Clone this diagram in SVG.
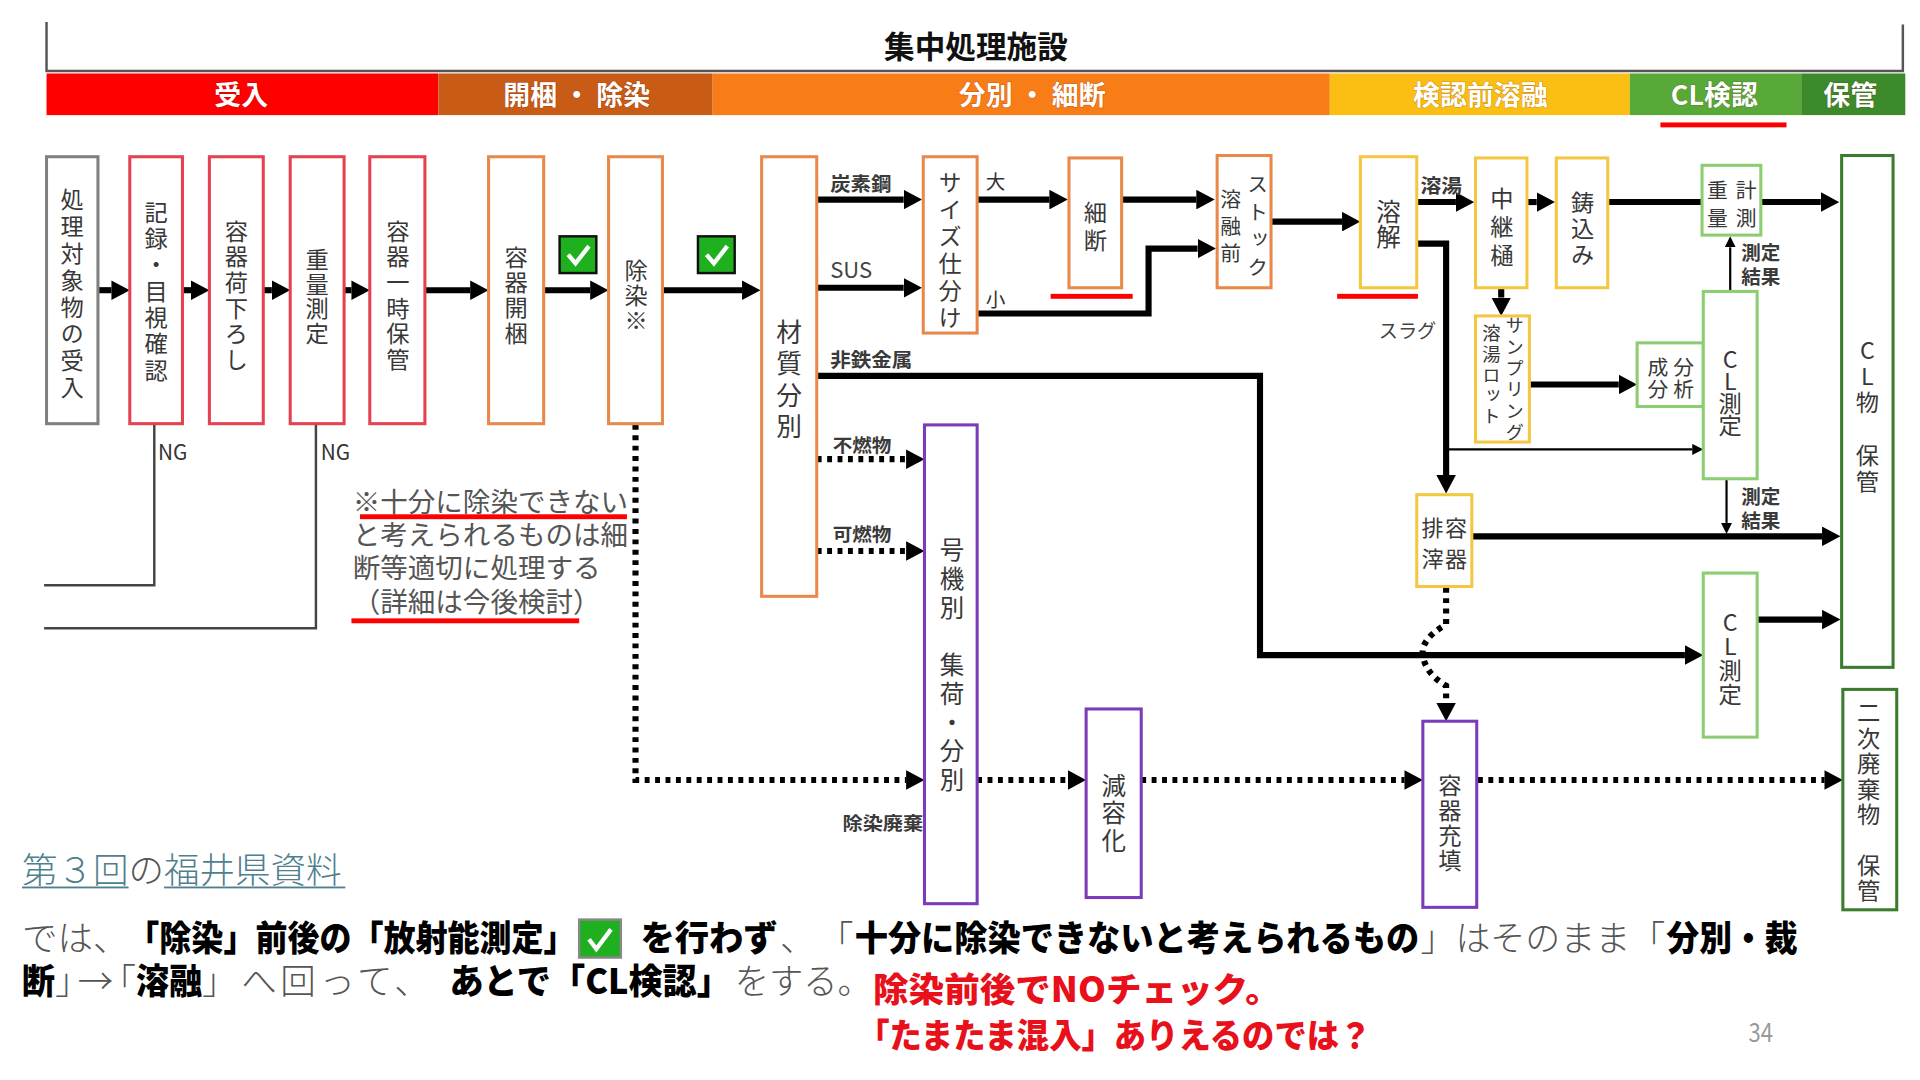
<svg xmlns="http://www.w3.org/2000/svg" width="1920" height="1080" viewBox="0 0 1920 1080">
<defs>
<style>
text{font-family:'Noto Sans CJK JP','Noto Sans',sans-serif;}
.v{writing-mode:vertical-rl;text-orientation:upright;text-anchor:middle;fill:#383838;font-size:19px;}
.box{fill:#fff;stroke-width:2.5;}
.gray{stroke:#808080}
.red{stroke:#e5414f}
.org{stroke:#e8894b}
.yel{stroke:#f4c743}
.lgr{stroke:#8ccd72}
.dgr{stroke:#3b7b2d}
.pur{stroke:#7a3cb8}
.thick{fill:none;stroke:#000;stroke-width:5;marker-end:url(#ah)}
.plain{fill:none;stroke:#000;stroke-width:5}
.thin{fill:none;stroke:#000;stroke-width:1.8;marker-end:url(#ahs)}
.dot{fill:none;stroke:#000;stroke-width:5;stroke-dasharray:4 4.5;marker-end:url(#ah)}
.ng{fill:none;stroke:#444;stroke-width:2}
.el{fill:#3a3a3a;font-size:16px;font-weight:700}
.band{fill:#fff;font-size:22px;font-weight:700;text-anchor:middle;stroke:rgba(90,0,0,0.25);stroke-width:1;paint-order:stroke}
.ul{fill:#f00}
.note{fill:#555;font-size:22.5px}
.lt{fill:#555;font-size:29px;font-weight:300}
.bd{fill:#000;font-size:29px;font-weight:900}
.rd{fill:#e8101a;font-size:28px;font-weight:900}
</style>
<marker id="ah" markerUnits="userSpaceOnUse" markerWidth="15" markerHeight="16" viewBox="0 0 15 16" refX="0" refY="8" orient="auto"><path d="M0,0 L15,8 L0,16 z" fill="#000"/></marker>
<marker id="ahs" markerUnits="userSpaceOnUse" markerWidth="9" markerHeight="9" viewBox="0 0 9 9" refX="0" refY="4.5" orient="auto"><path d="M0,0 L9,4.5 L0,9 z" fill="#000"/></marker>
<g id="chk"><rect x="0" y="0" width="30" height="30" fill="#1fb01f" stroke="#111" stroke-width="2"/><path d="M7,15 L13,22 L24,8" fill="none" stroke="#fff" stroke-width="3.5"/></g>
</defs>
<rect width="1920" height="1080" fill="#fff"/>
<g transform="scale(1.2244898)">

<!-- header -->
<g id="header">
<path d="M38,18 V58 H1554 V20" fill="none" stroke="#555" stroke-width="2"/>
<text x="797" y="47" font-size="25" font-weight="700" fill="#111" text-anchor="middle">集中処理施設</text>
<rect x="38" y="60" width="320" height="34" fill="#fe0000"/>
<rect x="358" y="60" width="224" height="34" fill="#c85b15"/>
<rect x="582" y="60" width="504" height="34" fill="#f87d17"/>
<rect x="1086" y="60" width="245" height="34" fill="#fbbe13"/>
<rect x="1331" y="60" width="140" height="34" fill="#58a938"/>
<rect x="1471" y="60" width="85" height="34" fill="#3d8a2b"/>
<text class="band" x="197" y="86">受入</text>
<text class="band" x="471" y="86">開梱 ・ 除染</text>
<text class="band" x="843" y="86">分別 ・ 細断</text>
<text class="band" x="1209" y="86">検認前溶融</text>
<text class="band" x="1400" y="86">CL検認</text>
<text class="band" x="1511" y="86">保管</text>
<rect class="ul" x="1356" y="100" width="103" height="4"/>
</g>

<!-- connectors -->
<g id="connectors">
<path class="thick" d="M80,237 H91"/>
<path class="thick" d="M149,237 H156"/>
<path class="thick" d="M215,237 H222"/>
<path class="thick" d="M281,237 H287"/>
<path class="thick" d="M347,237 H384"/>
<path class="thick" d="M444,237 H482"/>
<path class="thick" d="M541,237 H606"/>
<path class="thick" d="M667,163 H738"/>
<path class="thick" d="M667,235 H738"/>
<path class="thick" d="M798,163 H857"/>
<path class="thick" d="M798,256 H938 V203 H978"/>
<path class="thick" d="M916,163 H977"/>
<path class="thick" d="M1038,181 H1096"/>
<path class="thick" d="M1157,165 H1189"/>
<path class="thick" d="M1247,165 H1255"/>
<path class="plain" d="M1314,165 H1390"/>
<path class="thick" d="M1438,165 H1487"/>
<path class="thick" d="M1226,235 V243"/>
<path class="thick" d="M1249,314 H1322"/>
<path class="thick" d="M1157,199 H1181 V388"/>
<path class="thick" d="M1202,438 H1488"/>
<path class="thick" d="M1435,506 H1488"/>
<path class="thick" d="M667,307 H1029 V535 H1376"/>
<path class="thin" d="M1413,238 V202"/>
<path class="thin" d="M1410,391 V427"/>
<path class="thin" d="M1181,367 H1382"/>
<path class="dot" d="M519,347 V637 H740"/>
<path class="dot" d="M667,375 H740"/>
<path class="dot" d="M667,450 H740"/>
<path class="dot" d="M798,637 H872"/>
<path class="dot" d="M932,637 H1147"/>
<path class="dot" d="M1207,637 H1490"/>
<path class="dot" d="M1181,480 V510 Q1160,522 1162,535 Q1164,550 1181,560 V574"/>
<path class="ng" d="M126,346 V478 H36"/>
<path class="ng" d="M258,346 V513 H36"/>
</g>

<!-- connector labels -->
<g id="labels">
<text class="el" x="678" y="156" textLength="50" lengthAdjust="spacingAndGlyphs">炭素鋼</text>
<text x="678" y="227" font-size="18" fill="#444">SUS</text>
<text class="el" x="678" y="300" textLength="67" lengthAdjust="spacingAndGlyphs">非鉄金属</text>
<text class="el" x="680" y="369" style="font-size:15px" textLength="48" lengthAdjust="spacingAndGlyphs">不燃物</text>
<text class="el" x="680" y="442" style="font-size:15px" textLength="48" lengthAdjust="spacingAndGlyphs">可燃物</text>
<text x="805" y="154" font-size="16" fill="#333">大</text>
<text x="805" y="251" font-size="16" fill="#333">小</text>
<text class="el" x="1160" y="158" textLength="34" lengthAdjust="spacingAndGlyphs">溶湯</text>
<text x="1126" y="276" font-size="16" fill="#444" textLength="47" lengthAdjust="spacingAndGlyphs">スラグ</text>
<text class="el" x="688" y="678" style="font-size:15px" textLength="66" lengthAdjust="spacingAndGlyphs">除染廃棄</text>
<text class="el" x="1422" y="212">測定<tspan x="1422" y="232">結果</tspan></text>
<text class="el" x="1422" y="412">測定<tspan x="1422" y="431">結果</tspan></text>
<text x="129" y="376" font-size="17" fill="#333">NG</text>
<text x="262" y="376" font-size="17" fill="#333">NG</text>
</g>

<!-- nodes -->
<g id="n-receive"><rect class="box gray" x="38" y="128" width="42" height="218"/><text class="v" x="59" y="241" style="letter-spacing:3px">処理対象物の受入</text></g>
<g id="n-record"><rect class="box red" x="106" y="128" width="43" height="218"/><text class="v" x="127.5" y="238.75" style="letter-spacing:2.5px">記録・目視確認</text></g>
<g id="n-unload"><rect class="box red" x="171" y="128" width="44" height="218"/><text class="v" x="193" y="242" style="letter-spacing:2px">容器荷下ろし</text></g>
<g id="n-weigh"><rect class="box red" x="237" y="128" width="44" height="218"/><text class="v" x="259" y="242.5" style="letter-spacing:1px">重量測定</text></g>
<g id="n-tempstore"><rect class="box red" x="302" y="128" width="45" height="218"/><text class="v" x="325" y="242" style="letter-spacing:2px">容器一時保管</text></g>
<g id="n-open"><rect class="box org" x="399" y="128" width="45" height="218"/><text class="v" x="421.5" y="241.75" style="letter-spacing:1.5px">容器開梱</text></g>
<g id="n-decon"><rect class="box org" x="497" y="128" width="44" height="218"/><text class="v" x="519.5" y="242" style="letter-spacing:1.5px">除染※</text></g>
<use href="#chk" x="457" y="193"/>
<use href="#chk" x="570" y="193"/>
<g id="n-material"><rect class="box org" x="622" y="128" width="45" height="359"/><text class="v" x="644.5" y="312" style="font-size:21px;letter-spacing:4.5px">材質分別</text></g>
<g id="n-size"><rect class="box org" x="754" y="128" width="44" height="144"/><text class="v" x="776" y="205.5" style="letter-spacing:3px">サイズ仕分け</text></g>
<g id="n-cut"><rect class="box org" x="873" y="129" width="43" height="106"/><text class="v" x="894.5" y="186.5" style="letter-spacing:4px">細断</text></g>
<rect class="ul" x="858" y="240" width="67" height="4"/>
<g id="n-stock"><rect class="box org" x="994" y="127" width="44" height="108"/><text class="v" x="1027" y="187" style="font-size:17px;letter-spacing:5.5px">ストック</text><text class="v" x="1005" y="187.5" style="font-size:17px;letter-spacing:5px">溶融前</text></g>
<g id="n-melt"><rect class="box yel" x="1111" y="128" width="46" height="107"/><text class="v" x="1134" y="183" style="font-size:20px">溶解</text></g>
<rect class="ul" x="1092" y="240" width="66" height="4"/>
<g id="n-trough"><rect class="box yel" x="1205" y="129" width="42" height="106"/><text class="v" x="1226.5" y="187" style="letter-spacing:4px">中継樋</text></g>
<g id="n-cast"><rect class="box yel" x="1271" y="129" width="42" height="106"/><text class="v" x="1292.5" y="187.5" style="letter-spacing:2px">鋳込み</text></g>
<g id="n-weighing"><rect class="box lgr" x="1390" y="135" width="48" height="57"/><text class="v" x="1426" y="169.5" style="font-size:17px;letter-spacing:6px">計測</text><text class="v" x="1402.5" y="169.5" style="font-size:17px;letter-spacing:6px">重量</text></g>
<g id="n-analysis"><rect class="box lgr" x="1337" y="280" width="54" height="52"/><text class="v" x="1375" y="309.5" style="font-size:17px;letter-spacing:1px">分析</text><text class="v" x="1354" y="309.5" style="font-size:17px;letter-spacing:1px">成分</text></g>
<g id="n-cl1"><rect class="box lgr" x="1391" y="238" width="44" height="153"/><text class="v" x="1413" y="319.5" style="letter-spacing:-1px">CL測定</text></g>
<g id="n-sampling"><rect class="box yel" x="1205" y="258" width="44" height="103"/><text class="v" x="1237" y="310.5" style="font-size:15px;letter-spacing:2.5px">サンプリング</text><text class="v" x="1218" y="307" style="font-size:15px;letter-spacing:2px">溶湯ロット</text></g>
<g id="n-slag"><rect class="box yel" x="1157" y="404" width="45" height="75"/><text class="v" x="1189" y="447" style="font-size:18px;letter-spacing:7px">容器</text><text class="v" x="1170" y="447" style="font-size:18px;letter-spacing:7px">排滓</text></g>
<g id="n-clstore"><rect class="box dgr" x="1504" y="127" width="42" height="418"/><text class="v" x="1525" y="340.7" style="letter-spacing:2.4px">CL物　保管</text></g>
<g id="n-cl2"><rect class="box lgr" x="1391" y="468" width="44" height="134"/><text class="v" x="1413" y="538" style="letter-spacing:0.5px">CL測定</text></g>
<g id="n-secondary"><rect class="box dgr" x="1505" y="563" width="44" height="180"/><text class="v" x="1526" y="655.4" style="letter-spacing:1.8px">二次廃棄物　保管</text></g>
<g id="n-collect"><rect class="box pur" x="755" y="347" width="43" height="391"/><text class="v" x="777.5" y="544.75" style="font-size:20px;letter-spacing:3.5px">号機別　集荷・分別</text></g>
<g id="n-reduce"><rect class="box pur" x="887" y="579" width="45" height="154"/><text class="v" x="909.5" y="665" style="font-size:20px;letter-spacing:2.5px">減容化</text></g>
<g id="n-fill"><rect class="box pur" x="1162" y="589" width="44" height="152"/><text class="v" x="1184" y="672.75" style="letter-spacing:1.5px">容器充填</text></g>

<!-- note -->
<g id="note">
<text class="note" x="288" y="418">※十分に除染できない<tspan x="288" y="445">と考えられるものは細</tspan><tspan x="288" y="472">断等適切に処理する</tspan><tspan x="288" y="500">（詳細は今後検討）</tspan></text>
<rect class="ul" x="294" y="420" width="218" height="4"/>
<rect class="ul" x="287" y="505" width="186" height="4"/>
</g>

<!-- bottom text -->
<g id="caption">
<text x="18" y="721" font-size="29" font-weight="300" fill="#4f7f8f">第３回<tspan fill="#555">の</tspan>福井県資料</text>
<rect x="18" y="724" width="87" height="1.5" fill="#4f7f8f"/>
<rect x="134" y="724" width="148" height="1.5" fill="#4f7f8f"/>

<text class="lt" x="18" y="777">では、</text>
<text class="bd" x="104" y="777" textLength="366" lengthAdjust="spacingAndGlyphs">「除染」前後の「放射能測定」</text>
<rect x="473" y="751" width="34" height="31" fill="#1fb01f" stroke="#888" stroke-width="2"/>
<path d="M481,767 L487,775 L499,759" fill="none" stroke="#fff" stroke-width="3.5"/>
<text class="bd" x="523" y="777" textLength="112" lengthAdjust="spacingAndGlyphs">を行わず</text>
<text class="lt" x="637" y="777">、</text>
<text class="lt" x="668" y="777">「</text>
<text class="bd" x="698" y="777" textLength="461" lengthAdjust="spacingAndGlyphs">十分に除染できないと考えられるもの</text>
<text class="lt" x="1160" y="777" textLength="200" lengthAdjust="spacingAndGlyphs">」はそのまま「</text>
<text class="bd" x="1361" y="777" textLength="107" lengthAdjust="spacingAndGlyphs">分別・裁</text>

<text class="bd" x="18" y="812" textLength="27" lengthAdjust="spacingAndGlyphs">断</text>
<text class="lt" x="45" y="812" textLength="66" lengthAdjust="spacing">」→「</text>
<text class="bd" x="111" y="812" textLength="54" lengthAdjust="spacingAndGlyphs">溶融</text>
<text class="lt" x="165" y="812" textLength="186" lengthAdjust="spacing">」へ回って、</text>
<text class="bd" x="367" y="812" textLength="230" lengthAdjust="spacingAndGlyphs">あとで「CL検認」</text>
<text class="lt" x="600" y="812" textLength="112" lengthAdjust="spacingAndGlyphs">をする。</text>

<text class="rd" x="713" y="818" textLength="333" lengthAdjust="spacingAndGlyphs">除染前後でNOチェック。</text>
<text class="rd" x="700" y="856" textLength="420" lengthAdjust="spacingAndGlyphs">「たまたま混入」ありえるのでは？</text>
<text x="1428" y="851" font-size="21" fill="#999" textLength="20" lengthAdjust="spacingAndGlyphs">34</text>
</g>
</g>
</svg>
